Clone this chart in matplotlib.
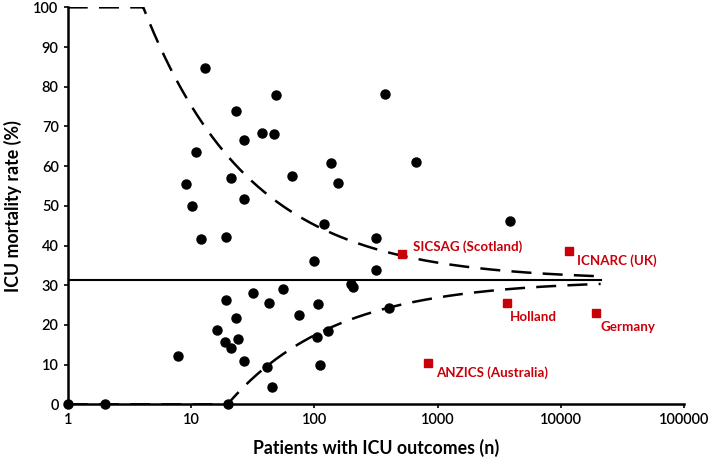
import numpy as np
import matplotlib
matplotlib.use("Agg")
import matplotlib.pyplot as plt

plt.rcParams['font.family'] = ['Lato', 'DejaVu Sans']

# Individual units (black dots): patients (n) and ICU mortality (%)
unit_n = [1, 2, 20, 7.9, 9.1, 10.1, 11.0, 12.0, 13.0, 16.2, 19.0, 19.1, 19.1, 21.0,
          21.1, 23.0, 23.2, 24.0, 27.0, 27.0, 27.0, 32.0, 38.0, 41.6, 43.0, 45.1,
          47.0, 49.2, 55.4, 66.3, 75.1, 98.9, 105.7, 106.6, 111.0, 120.0, 130.0,
          136.0, 157.0, 197.0, 207.0, 318.0, 318.0, 372.0, 403.0, 668.0, 3846.0]
unit_rate = [0, 0, 0, 12.3, 55.4, 49.9, 63.6, 41.6, 84.6, 18.7, 15.8, 42.1, 26.2, 57.1,
             14.1, 73.9, 21.7, 16.5, 66.6, 51.8, 11.0, 28.0, 68.3, 9.5, 25.5, 4.3,
             68.0, 77.9, 29.0, 57.5, 22.5, 36.2, 17.0, 25.4, 9.8, 45.4, 18.5,
             60.7, 55.7, 30.4, 29.6, 41.8, 33.8, 78.3, 24.2, 61.1, 46.2]

# National registries (red squares)
reg_names = ["SICSAG (Scotland)", "ICNARC (UK)", "Holland", "Germany", "ANZICS (Australia)"]
reg_n = [511, 11640, 3675, 19360, 831]
reg_rate = [37.9, 38.7, 25.6, 22.9, 10.5]
reg_offsets = [(8, 5), (6, -7), (2, -10), (3, -10), (6, -7)]

mean_rate = 31.3   # overall mortality (%)
limit_z = 3        # control limits (SD)
n_max = 21000

fig = plt.figure(figsize=(7.09, 4.59), dpi=100)
ax = fig.add_axes([0.0955, 0.119, 0.8695, 0.865])

# funnel control limits
n = np.logspace(0, np.log10(n_max), 600)
p = mean_rate / 100
se = np.sqrt(p * (1 - p) / n)
upper = np.clip((p + limit_z * se) * 100, 0, 100)
lower = np.clip((p - limit_z * se) * 100, 0, 100)
dash = (8, 4.5)
ax.plot(n, upper, color='black', lw=1.8, dashes=dash, zorder=2)
ax.plot(n, lower, color='black', lw=1.8, dashes=dash, zorder=2)
ax.plot([1, n_max], [mean_rate, mean_rate], color='black', lw=1.5, zorder=2)

ax.plot(unit_n, unit_rate, 'o', color='black', ms=6.5, zorder=3, clip_on=False)
ax.plot(reg_n, reg_rate, 's', color='#c8000a', ms=6, zorder=3)
for name, xn, yr, off in zip(reg_names, reg_n, reg_rate, reg_offsets):
    ax.annotate(name, (xn, yr), xytext=off, textcoords='offset points',
                color='#c8000a', fontsize=9.6, fontweight='bold',
                ha='left', va='center')

ax.set_xscale('log')
ax.set_xlim(1, 100000)
ax.set_ylim(0, 100)
ax.set_xticks([1, 10, 100, 1000, 10000, 100000])
ax.set_xticklabels(['1', '10', '100', '1000', '10000', '100000'])
ax.xaxis.set_minor_locator(matplotlib.ticker.NullLocator())
ax.set_yticks(range(0, 101, 10))
ax.tick_params(axis='both', labelsize=10.5, length=3, width=1.2, direction='out')
for lbl in ax.get_xticklabels() + ax.get_yticklabels():
    lbl.set_fontweight('semibold')

for s in ['top', 'right']:
    ax.spines[s].set_visible(False)
for s in ['left', 'bottom']:
    ax.spines[s].set_linewidth(1.8)

ax.set_xlabel('Patients with ICU outcomes (n)', fontsize=12.8, fontweight='bold', labelpad=8)
ax.set_ylabel('ICU mortality rate (%)', fontsize=12.8, fontweight='bold', labelpad=8)

fig.savefig('out.png', dpi=100)
